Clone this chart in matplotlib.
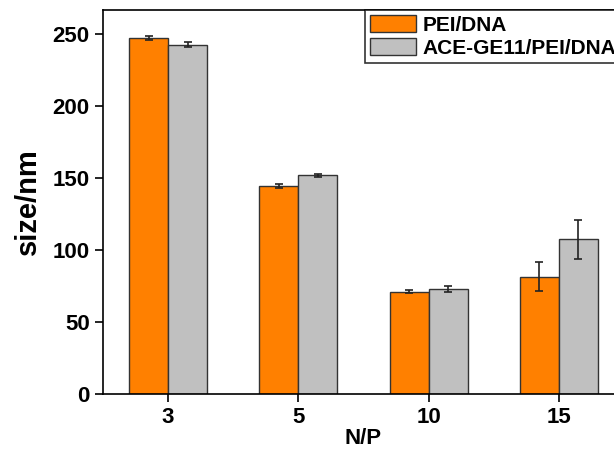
import matplotlib.pyplot as plt
import numpy as np

plt.rcParams['font.family'] = ['Liberation Sans', 'DejaVu Sans']
plt.rcParams['font.weight'] = 'bold'

groups = ['3', '5', '10', '15']
pei = [247.5, 144.5, 71, 81.5]
pei_err = [1.5, 1.2, 1.0, 10]
ace = [243, 152, 73, 107.5]
ace_err = [1.5, 0.8, 2.0, 13.5]

x = np.arange(len(groups))
w = 0.3

fig = plt.figure(figsize=(6.14, 4.57), dpi=100)
ax = fig.add_axes([103/614, 63/457, 521/614, 384/457])

ekw = dict(ecolor='#222222', elinewidth=1.2, capthick=1.2)
ax.bar(x - w/2, pei, w, yerr=pei_err, color='#FF8000', edgecolor='#333333',
       linewidth=1, capsize=3, error_kw=ekw, label='PEI/DNA')
ax.bar(x + w/2, ace, w, yerr=ace_err, color='#C0C0C0', edgecolor='#333333',
       linewidth=1, capsize=3, error_kw=ekw, label='ACE-GE11/PEI/DNA')

ax.set_xlim(-0.5, len(groups) - 0.5)
ax.set_ylim(0, 267)
ax.set_yticks([0, 50, 100, 150, 200, 250])
ax.set_xticks(x)
ax.set_xticklabels(groups)
ax.tick_params(direction='out', length=6, width=1.2, labelsize=16)
for lab in ax.get_xticklabels() + ax.get_yticklabels():
    lab.set_fontweight('bold')
for s in ax.spines.values():
    s.set_linewidth(1.2)

ax.set_xlabel('N/P', fontsize=16, fontweight='bold', labelpad=0)
ax.set_ylabel('size/nm', fontsize=21, fontweight='bold', labelpad=8)

leg = ax.legend(loc='upper left', bbox_to_anchor=(365/614, 1 - 10/457),
                bbox_transform=fig.transFigure, borderaxespad=0, fontsize=15,
                fancybox=False, edgecolor='black', handlelength=2.2,
                handleheight=0.9, handletextpad=0.3, labelspacing=0.15,
                borderpad=0.25)
leg.get_frame().set_linewidth(1.2)
for t in leg.get_texts():
    t.set_fontweight('bold')

fig.savefig('out.png', dpi=100)
